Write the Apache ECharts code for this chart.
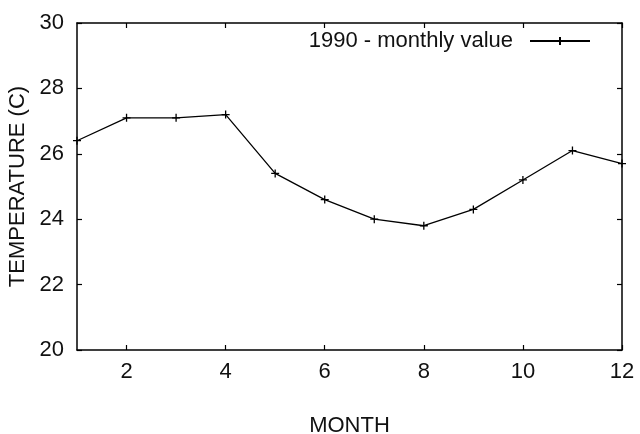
<!DOCTYPE html>
<html>
<head>
<meta charset="utf-8">
<script src="https://cdn.jsdelivr.net/npm/echarts@6/dist/echarts.min.js"></script>
<style>html,body{margin:0;padding:0;background:#fff}#c{width:640px;height:434px}</style>
</head>
<body>
<div id="c"></div>
<script>
const months = [1,2,3,4,5,6,7,8,9,10,11,12];
const temps = [26.4,27.1,27.1,27.2,25.4,24.6,24.0,23.8,24.3,25.2,26.1,25.7];
const xTicks = [2,4,6,8,10,12];
const yTicks = [20,22,24,26,28,30];
const seriesName = '1990 - monthly value';

const FONT = 'Liberation Sans';
const FS = 22;
const plus = 'path://M0,5 L10,5 M5,0 L5,10';
const chart = echarts.init(document.getElementById('c'));
const tickInside = {show:true, inside:true, length:5, lineStyle:{color:'#000', width:1.2}};
function xAx(pos, labels){
  return {type:'value', position:pos, min:1, max:12,
    axisLine:{show:true, onZero:false, lineStyle:{color:'#000', width:1.5}},
    axisTick:Object.assign({customValues:xTicks}, tickInside),
    axisLabel:{show:labels, customValues:xTicks, color:'#111', fontSize:FS, fontFamily:FONT, margin:11},
    splitLine:{show:false},
    name: labels ? 'MONTH' : '', nameLocation:'middle', nameGap:65,
    nameTextStyle:{color:'#111', fontSize:FS, fontFamily:FONT}};
}
function yAx(pos, labels){
  return {type:'value', position:pos, min:20, max:30, interval:2,
    axisLine:{show:true, onZero:false, lineStyle:{color:'#000', width:1.5}},
    axisTick:tickInside,
    axisLabel:{show:labels, color:'#111', fontSize:FS, fontFamily:FONT, margin:13},
    splitLine:{show:false},
    name: labels ? 'TEMPERATURE (C)' : '', nameLocation:'middle', nameGap:46,
    nameTextStyle:{color:'#111', fontSize:FS, fontFamily:FONT}};
}
chart.setOption({
  animation:false,
  backgroundColor:'#fff',
  grid:{left:77, right:18, top:23, bottom:84, containLabel:false, outerBoundsMode:'none'},
  legend:{show:true, right:44, top:25, align:'right', itemWidth:60, itemHeight:10, itemGap:10,
    textStyle:{color:'#111', fontSize:FS, fontFamily:FONT, padding:[0,12,0,0]},
    data:[{name:seriesName}]},
  xAxis:[xAx('bottom', true), xAx('top', false)],
  yAxis:[yAx('left', true), yAx('right', false)],
  series:[{
    name:seriesName, type:'line', xAxisIndex:0, yAxisIndex:0,
    data: months.map((m,i)=>[m, temps[i]]),
    symbol:plus, symbolSize:8, showSymbol:true,
    lineStyle:{color:'#000', width:1.3},
    itemStyle:{color:'#000', borderColor:'#000', borderWidth:1.3},
    clip:false
  }]
});
</script>
</body>
</html>
